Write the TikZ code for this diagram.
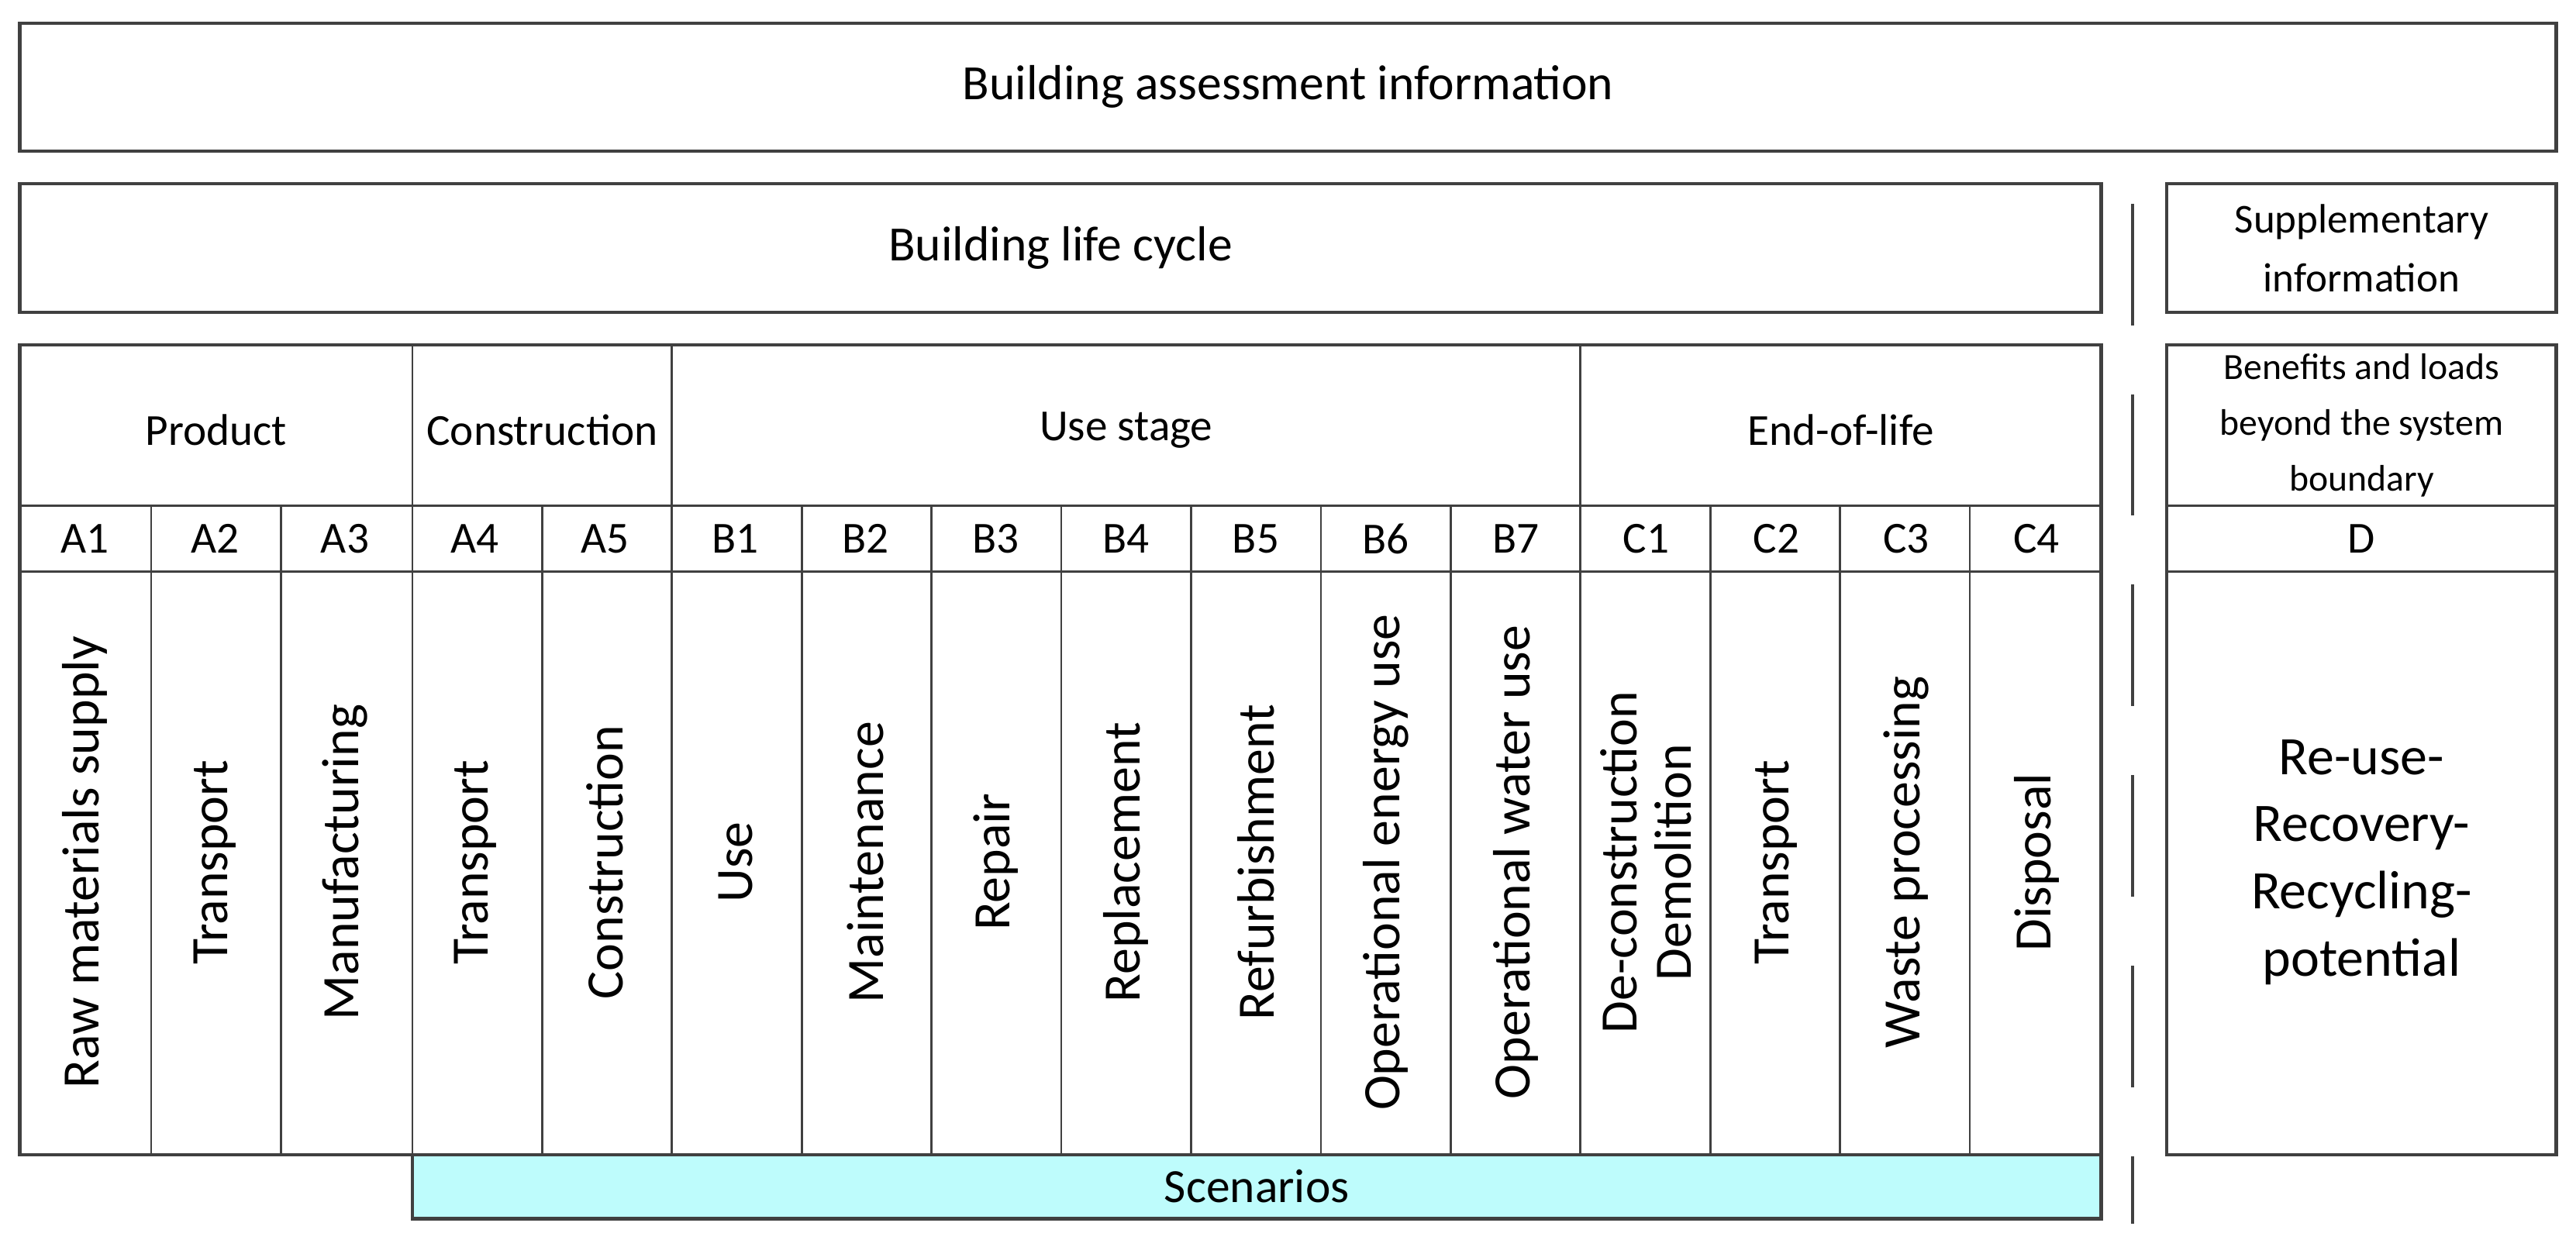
\documentclass[tikz,border=0pt]{standalone}
\usepackage{fontspec}
\setmainfont{Carlito}
\definecolor{scen}{RGB}{190,252,252}
\begin{document}
\begin{tikzpicture}[x=1pt,y=-1pt,
  box/.style={draw=black!75,line width=2pt},
  cell/.style={draw=black!75,line width=1.3pt},
  lbl/.style={font=\fontsize{27}{32}\selectfont,align=center},
  vlbl/.style={font=\fontsize{32}{33}\selectfont,rotate=90,align=center}]
\useasboundingbox (0,0) rectangle (1568,759);
% top boxes
\draw[box] (12,14) rectangle (1556,92);
\node[lbl,font=\fontsize{30}{34}\selectfont] (bai) at (784,53) {Building assessment information};
\draw[box] (12,112) rectangle (1279,190);
\node[lbl,font=\fontsize{30}{34}\selectfont] (blc) at (645.5,151) {Building life cycle};
\draw[box] (1319,112) rectangle (1556,190);
\node[lbl,font=\fontsize{25}{36}\selectfont] (sup) at (1437.5,151) {Supplementary\\information};
% scenarios
\draw[box,fill=scen] (251,703) rectangle (1279,742);
\node[lbl,font=\fontsize{29}{32}\selectfont] (scen) at (765,722) {Scenarios};
% main table
\foreach \x in {92,171,330,488,567,646,725,804,883,1041,1120,1199}
  \draw[cell] (\x,308) -- (\x,703);
\foreach \x in {251,409,962}
  \draw[cell] (\x,210) -- (\x,703);
\draw[cell] (12,308) -- (1279,308);
\draw[cell] (12,348) -- (1279,348);
\draw[box] (12,210) rectangle (1279,703);
\node[lbl] (hp) at (131.5,262) {Product};
\node[lbl] (hc) at (330,262) {Construction};
\node[lbl] (hu) at (685.5,262) {Use stage};
\node[lbl] (he) at (1120.5,262) {End-of-life};
\foreach \c/\t [count=\i from 0] in {A1/Raw materials supply,A2/Transport,A3/Manufacturing,A4/Transport,A5/Construction,B1/Use,B2/Maintenance,B3/Repair,B4/Replacement,B5/Refurbishment,B6/Operational energy use,B7/Operational water use,C1/{De-construction\\Demolition},C2/Transport,C3/Waste processing,C4/Disposal}{
  \node[lbl] (c\c) at ({12+79.2*\i+39.6},328) {\c};
  \node[vlbl] (t\c) at ({12+79.2*\i+39.6},525) {\t};
}
% right column
\draw[cell] (1319,308) -- (1556,308);
\draw[cell] (1319,348) -- (1556,348);
\draw[box] (1319,210) rectangle (1556,703);
\node[lbl,font=\fontsize{22.5}{34}\selectfont] (bl) at (1437.5,259) {Benefits and loads\\beyond the system\\boundary};
\node[lbl] (cD) at (1437.5,328) {D};
\node[lbl,font=\fontsize{33}{41}\selectfont] (rr) at (1437.5,525) {Re-use-\\Recovery-\\Recycling-\\potential};
% dashed separator
\coordinate (d1) at (1298,112);
\coordinate (d2) at (1298,745);
\draw[black!75,line width=2.2pt,dash pattern=on 74pt off 42pt,dash phase=-12pt] (d1) -- (d2);
\end{tikzpicture}
\end{document}
